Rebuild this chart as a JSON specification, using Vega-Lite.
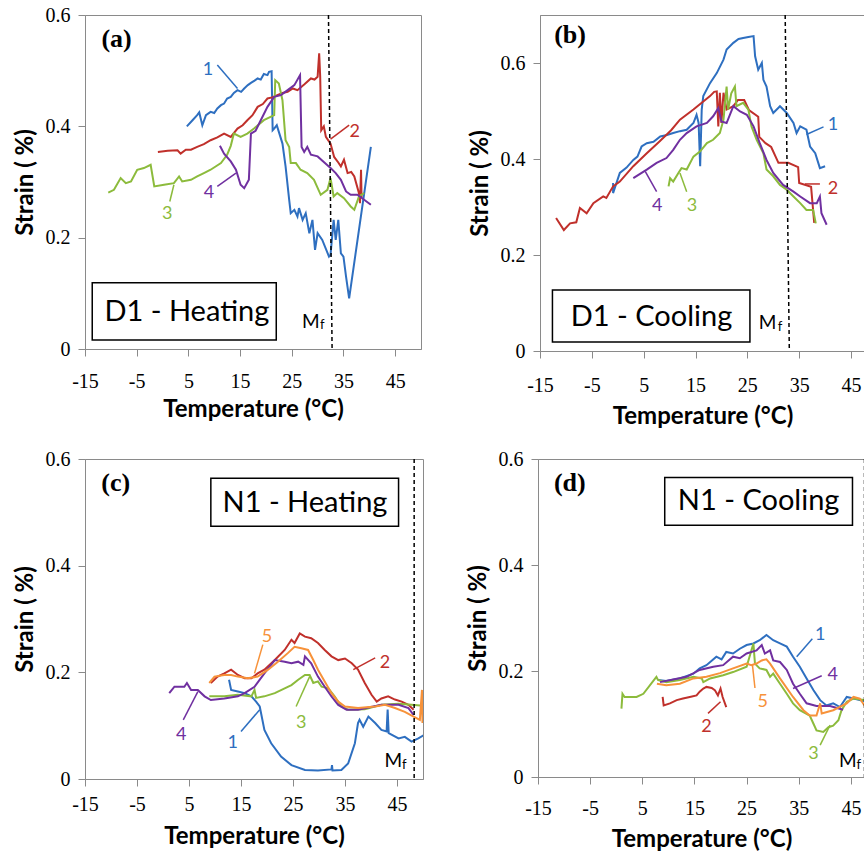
{
"$schema": "https://vega.github.io/schema/vega-lite/v6.json",
"background": "white",
"padding": {"left": 12, "top": 4, "right": 0, "bottom": 0},
"config": {
  "view": {"stroke": "#8a8a8a", "strokeWidth": 1},
  "axis": {"grid": false, "domainColor": "#8a8a8a", "tickColor": "#8a8a8a", "tickSize": 7, "labelFont": "Liberation Serif", "labelFontSize": 20, "labelColor": "#000", "titleFont": "Lato", "titleFontWeight": "bold", "titleFontSize": 24, "titleColor": "#000"},
  "text": {"font": "Lato"}
},
"datasets": {
"lines": [
{"p":"a","k":"1","t":4.7,"s":0.4},{"p":"a","k":"1","t":5.8,"s":0.411},{"p":"a","k":"1","t":6.7,"s":0.42},{"p":"a","k":"1","t":7.1,"s":0.425},{"p":"a","k":"1","t":7.7,"s":0.402},{"p":"a","k":"1","t":8.4,"s":0.42},{"p":"a","k":"1","t":9.3,"s":0.426},{"p":"a","k":"1","t":10.0,"s":0.424},{"p":"a","k":"1","t":10.6,"s":0.432},{"p":"a","k":"1","t":11.3,"s":0.438},{"p":"a","k":"1","t":11.9,"s":0.441},{"p":"a","k":"1","t":12.5,"s":0.45},{"p":"a","k":"1","t":13.2,"s":0.453},{"p":"a","k":"1","t":13.8,"s":0.46},{"p":"a","k":"1","t":14.5,"s":0.465},{"p":"a","k":"1","t":15.2,"s":0.462},{"p":"a","k":"1","t":15.8,"s":0.468},{"p":"a","k":"1","t":16.5,"s":0.474},{"p":"a","k":"1","t":17.1,"s":0.478},{"p":"a","k":"1","t":17.8,"s":0.482},{"p":"a","k":"1","t":18.4,"s":0.486},{"p":"a","k":"1","t":19.0,"s":0.484},{"p":"a","k":"1","t":19.6,"s":0.494},{"p":"a","k":"1","t":20.3,"s":0.492},{"p":"a","k":"1","t":20.6,"s":0.498},{"p":"a","k":"1","t":21.1,"s":0.499},{"p":"a","k":"1","t":21.3,"s":0.393},{"p":"a","k":"1","t":21.6,"s":0.396},{"p":"a","k":"1","t":22.1,"s":0.402},{"p":"a","k":"1","t":22.5,"s":0.39},{"p":"a","k":"1","t":23.2,"s":0.369},{"p":"a","k":"1","t":23.8,"s":0.328},{"p":"a","k":"1","t":24.5,"s":0.268},{"p":"a","k":"1","t":24.8,"s":0.244},{"p":"a","k":"1","t":25.5,"s":0.25},{"p":"a","k":"1","t":26.1,"s":0.238},{"p":"a","k":"1","t":26.4,"s":0.253},{"p":"a","k":"1","t":27.1,"s":0.232},{"p":"a","k":"1","t":27.7,"s":0.244},{"p":"a","k":"1","t":28.4,"s":0.208},{"p":"a","k":"1","t":29.0,"s":0.232},{"p":"a","k":"1","t":29.5,"s":0.178},{"p":"a","k":"1","t":30.0,"s":0.208},{"p":"a","k":"1","t":30.9,"s":0.196},{"p":"a","k":"1","t":32.2,"s":0.166},{"p":"a","k":"1","t":32.5,"s":0.169},{"p":"a","k":"1","t":33.1,"s":0.232},{"p":"a","k":"1","t":33.5,"s":0.196},{"p":"a","k":"1","t":34.0,"s":0.232},{"p":"a","k":"1","t":34.5,"s":0.172},{"p":"a","k":"1","t":35.0,"s":0.166},{"p":"a","k":"1","t":35.5,"s":0.13},{"p":"a","k":"1","t":36.1,"s":0.091},{"p":"a","k":"1","t":40.3,"s":0.363},
{"p":"a","k":"2","t":-0.9,"s":0.354},{"p":"a","k":"2","t":1.0,"s":0.356},{"p":"a","k":"2","t":2.9,"s":0.357},{"p":"a","k":"2","t":3.5,"s":0.351},{"p":"a","k":"2","t":4.5,"s":0.358},{"p":"a","k":"2","t":5.5,"s":0.358},{"p":"a","k":"2","t":6.7,"s":0.363},{"p":"a","k":"2","t":8.0,"s":0.368},{"p":"a","k":"2","t":9.3,"s":0.375},{"p":"a","k":"2","t":10.6,"s":0.38},{"p":"a","k":"2","t":11.9,"s":0.387},{"p":"a","k":"2","t":13.2,"s":0.381},{"p":"a","k":"2","t":14.5,"s":0.396},{"p":"a","k":"2","t":15.5,"s":0.402},{"p":"a","k":"2","t":16.4,"s":0.411},{"p":"a","k":"2","t":17.4,"s":0.42},{"p":"a","k":"2","t":18.4,"s":0.435},{"p":"a","k":"2","t":19.4,"s":0.44},{"p":"a","k":"2","t":20.3,"s":0.45},{"p":"a","k":"2","t":21.2,"s":0.452},{"p":"a","k":"2","t":22.2,"s":0.456},{"p":"a","k":"2","t":23.2,"s":0.46},{"p":"a","k":"2","t":24.2,"s":0.462},{"p":"a","k":"2","t":25.2,"s":0.468},{"p":"a","k":"2","t":26.1,"s":0.465},{"p":"a","k":"2","t":27.4,"s":0.475},{"p":"a","k":"2","t":28.7,"s":0.486},{"p":"a","k":"2","t":29.4,"s":0.484},{"p":"a","k":"2","t":30.0,"s":0.489},{"p":"a","k":"2","t":30.3,"s":0.531},{"p":"a","k":"2","t":30.5,"s":0.489},{"p":"a","k":"2","t":30.7,"s":0.393},{"p":"a","k":"2","t":31.2,"s":0.4},{"p":"a","k":"2","t":31.6,"s":0.381},{"p":"a","k":"2","t":32.5,"s":0.369},{"p":"a","k":"2","t":33.2,"s":0.345},{"p":"a","k":"2","t":34.0,"s":0.335},{"p":"a","k":"2","t":34.5,"s":0.328},{"p":"a","k":"2","t":35.1,"s":0.34},{"p":"a","k":"2","t":35.8,"s":0.316},{"p":"a","k":"2","t":36.5,"s":0.318},{"p":"a","k":"2","t":37.1,"s":0.31},{"p":"a","k":"2","t":38.0,"s":0.28},{"p":"a","k":"2","t":38.2,"s":0.262},{"p":"a","k":"2","t":38.4,"s":0.322},{"p":"a","k":"2","t":38.5,"s":0.272},
{"p":"a","k":"3","t":-10.5,"s":0.281},{"p":"a","k":"3","t":-9.4,"s":0.286},{"p":"a","k":"3","t":-8.1,"s":0.307},{"p":"a","k":"3","t":-7.1,"s":0.298},{"p":"a","k":"3","t":-6.1,"s":0.301},{"p":"a","k":"3","t":-4.9,"s":0.322},{"p":"a","k":"3","t":-3.6,"s":0.325},{"p":"a","k":"3","t":-2.3,"s":0.331},{"p":"a","k":"3","t":-1.6,"s":0.292},{"p":"a","k":"3","t":0.3,"s":0.295},{"p":"a","k":"3","t":2.2,"s":0.298},{"p":"a","k":"3","t":3.2,"s":0.31},{"p":"a","k":"3","t":3.8,"s":0.301},{"p":"a","k":"3","t":5.5,"s":0.304},{"p":"a","k":"3","t":6.7,"s":0.31},{"p":"a","k":"3","t":8.0,"s":0.316},{"p":"a","k":"3","t":9.3,"s":0.322},{"p":"a","k":"3","t":11.3,"s":0.334},{"p":"a","k":"3","t":12.5,"s":0.349},{"p":"a","k":"3","t":13.2,"s":0.365},{"p":"a","k":"3","t":13.8,"s":0.387},{"p":"a","k":"3","t":15.1,"s":0.381},{"p":"a","k":"3","t":16.4,"s":0.387},{"p":"a","k":"3","t":17.7,"s":0.396},{"p":"a","k":"3","t":19.6,"s":0.411},{"p":"a","k":"3","t":21.6,"s":0.42},{"p":"a","k":"3","t":21.8,"s":0.483},{"p":"a","k":"3","t":22.5,"s":0.477},{"p":"a","k":"3","t":23.2,"s":0.447},{"p":"a","k":"3","t":23.8,"s":0.375},{"p":"a","k":"3","t":24.5,"s":0.363},{"p":"a","k":"3","t":24.8,"s":0.334},{"p":"a","k":"3","t":25.8,"s":0.334},{"p":"a","k":"3","t":26.7,"s":0.322},{"p":"a","k":"3","t":28.0,"s":0.316},{"p":"a","k":"3","t":29.3,"s":0.304},{"p":"a","k":"3","t":30.6,"s":0.277},{"p":"a","k":"3","t":31.9,"s":0.286},{"p":"a","k":"3","t":32.5,"s":0.307},{"p":"a","k":"3","t":33.1,"s":0.274},{"p":"a","k":"3","t":33.8,"s":0.28},{"p":"a","k":"3","t":35.1,"s":0.271},{"p":"a","k":"3","t":36.4,"s":0.256},{"p":"a","k":"3","t":37.1,"s":0.25},{"p":"a","k":"3","t":38.0,"s":0.274},{"p":"a","k":"3","t":39.0,"s":0.28},
{"p":"a","k":"4","t":11.1,"s":0.365},{"p":"a","k":"4","t":11.9,"s":0.351},{"p":"a","k":"4","t":13.2,"s":0.337},{"p":"a","k":"4","t":14.2,"s":0.322},{"p":"a","k":"4","t":15.1,"s":0.295},{"p":"a","k":"4","t":15.8,"s":0.289},{"p":"a","k":"4","t":16.7,"s":0.304},{"p":"a","k":"4","t":17.1,"s":0.387},{"p":"a","k":"4","t":18.0,"s":0.392},{"p":"a","k":"4","t":19.0,"s":0.411},{"p":"a","k":"4","t":20.3,"s":0.435},{"p":"a","k":"4","t":21.6,"s":0.453},{"p":"a","k":"4","t":22.9,"s":0.456},{"p":"a","k":"4","t":24.2,"s":0.465},{"p":"a","k":"4","t":25.5,"s":0.474},{"p":"a","k":"4","t":26.6,"s":0.492},{"p":"a","k":"4","t":26.9,"s":0.363},{"p":"a","k":"4","t":27.4,"s":0.354},{"p":"a","k":"4","t":28.0,"s":0.363},{"p":"a","k":"4","t":28.7,"s":0.349},{"p":"a","k":"4","t":30.0,"s":0.346},{"p":"a","k":"4","t":31.3,"s":0.335},{"p":"a","k":"4","t":32.5,"s":0.325},{"p":"a","k":"4","t":33.5,"s":0.316},{"p":"a","k":"4","t":34.5,"s":0.304},{"p":"a","k":"4","t":35.5,"s":0.283},{"p":"a","k":"4","t":36.4,"s":0.277},{"p":"a","k":"4","t":37.7,"s":0.277},{"p":"a","k":"4","t":39.0,"s":0.268},{"p":"a","k":"4","t":40.3,"s":0.259},
{"p":"b","k":"1","t":-0.9,"s":0.35},{"p":"b","k":"1","t":-0.9,"s":0.329},{"p":"b","k":"1","t":0.4,"s":0.371},{"p":"b","k":"1","t":1.7,"s":0.382},{"p":"b","k":"1","t":3.0,"s":0.398},{"p":"b","k":"1","t":3.8,"s":0.405},{"p":"b","k":"1","t":4.6,"s":0.426},{"p":"b","k":"1","t":5.6,"s":0.433},{"p":"b","k":"1","t":6.9,"s":0.436},{"p":"b","k":"1","t":8.2,"s":0.447},{"p":"b","k":"1","t":9.5,"s":0.45},{"p":"b","k":"1","t":10.7,"s":0.454},{"p":"b","k":"1","t":12.0,"s":0.458},{"p":"b","k":"1","t":13.3,"s":0.461},{"p":"b","k":"1","t":14.6,"s":0.475},{"p":"b","k":"1","t":15.2,"s":0.492},{"p":"b","k":"1","t":15.6,"s":0.475},{"p":"b","k":"1","t":15.9,"s":0.385},{"p":"b","k":"1","t":16.2,"s":0.503},{"p":"b","k":"1","t":16.5,"s":0.531},{"p":"b","k":"1","t":17.8,"s":0.558},{"p":"b","k":"1","t":19.1,"s":0.579},{"p":"b","k":"1","t":20.4,"s":0.607},{"p":"b","k":"1","t":21.0,"s":0.628},{"p":"b","k":"1","t":22.3,"s":0.642},{"p":"b","k":"1","t":23.3,"s":0.65},{"p":"b","k":"1","t":24.2,"s":0.652},{"p":"b","k":"1","t":25.2,"s":0.654},{"p":"b","k":"1","t":26.2,"s":0.656},{"p":"b","k":"1","t":26.5,"s":0.614},{"p":"b","k":"1","t":27.1,"s":0.586},{"p":"b","k":"1","t":27.8,"s":0.6},{"p":"b","k":"1","t":28.1,"s":0.565},{"p":"b","k":"1","t":28.7,"s":0.551},{"p":"b","k":"1","t":29.4,"s":0.51},{"p":"b","k":"1","t":30.0,"s":0.496},{"p":"b","k":"1","t":31.3,"s":0.51},{"p":"b","k":"1","t":32.6,"s":0.496},{"p":"b","k":"1","t":33.9,"s":0.475},{"p":"b","k":"1","t":34.5,"s":0.454},{"p":"b","k":"1","t":35.2,"s":0.468},{"p":"b","k":"1","t":36.4,"s":0.461},{"p":"b","k":"1","t":37.1,"s":0.426},{"p":"b","k":"1","t":38.1,"s":0.412},{"p":"b","k":"1","t":39.0,"s":0.381},{"p":"b","k":"1","t":40.0,"s":0.385},
{"p":"b","k":"2","t":-11.9,"s":0.277},{"p":"b","k":"2","t":-10.4,"s":0.252},{"p":"b","k":"2","t":-9.2,"s":0.266},{"p":"b","k":"2","t":-8.0,"s":0.268},{"p":"b","k":"2","t":-7.3,"s":0.298},{"p":"b","k":"2","t":-6.0,"s":0.287},{"p":"b","k":"2","t":-4.7,"s":0.308},{"p":"b","k":"2","t":-2.8,"s":0.322},{"p":"b","k":"2","t":-2.2,"s":0.319},{"p":"b","k":"2","t":-0.9,"s":0.343},{"p":"b","k":"2","t":0.4,"s":0.353},{"p":"b","k":"2","t":3.0,"s":0.385},{"p":"b","k":"2","t":5.6,"s":0.412},{"p":"b","k":"2","t":8.0,"s":0.436},{"p":"b","k":"2","t":10.3,"s":0.46},{"p":"b","k":"2","t":12.0,"s":0.482},{"p":"b","k":"2","t":14.6,"s":0.503},{"p":"b","k":"2","t":16.2,"s":0.517},{"p":"b","k":"2","t":17.8,"s":0.531},{"p":"b","k":"2","t":18.6,"s":0.54},{"p":"b","k":"2","t":19.1,"s":0.541},{"p":"b","k":"2","t":19.4,"s":0.468},{"p":"b","k":"2","t":19.7,"s":0.538},{"p":"b","k":"2","t":20.0,"s":0.475},{"p":"b","k":"2","t":20.4,"s":0.538},{"p":"b","k":"2","t":21.0,"s":0.503},{"p":"b","k":"2","t":22.3,"s":0.51},{"p":"b","k":"2","t":23.2,"s":0.523},{"p":"b","k":"2","t":24.4,"s":0.523},{"p":"b","k":"2","t":25.3,"s":0.502},{"p":"b","k":"2","t":27.1,"s":0.488},{"p":"b","k":"2","t":27.3,"s":0.446},{"p":"b","k":"2","t":28.5,"s":0.433},{"p":"b","k":"2","t":29.6,"s":0.425},{"p":"b","k":"2","t":31.0,"s":0.392},{"p":"b","k":"2","t":32.9,"s":0.392},{"p":"b","k":"2","t":34.8,"s":0.383},{"p":"b","k":"2","t":35.0,"s":0.35},{"p":"b","k":"2","t":37.3,"s":0.342},{"p":"b","k":"2","t":37.9,"s":0.267},
{"p":"b","k":"3","t":9.8,"s":0.343},{"p":"b","k":"3","t":10.1,"s":0.36},{"p":"b","k":"3","t":10.7,"s":0.353},{"p":"b","k":"3","t":11.7,"s":0.371},{"p":"b","k":"3","t":12.3,"s":0.381},{"p":"b","k":"3","t":13.3,"s":0.378},{"p":"b","k":"3","t":14.6,"s":0.405},{"p":"b","k":"3","t":15.9,"s":0.416},{"p":"b","k":"3","t":17.2,"s":0.433},{"p":"b","k":"3","t":18.4,"s":0.44},{"p":"b","k":"3","t":19.7,"s":0.454},{"p":"b","k":"3","t":20.4,"s":0.482},{"p":"b","k":"3","t":21.0,"s":0.551},{"p":"b","k":"3","t":21.3,"s":0.503},{"p":"b","k":"3","t":21.9,"s":0.537},{"p":"b","k":"3","t":22.6,"s":0.551},{"p":"b","k":"3","t":22.9,"s":0.51},{"p":"b","k":"3","t":24.2,"s":0.517},{"p":"b","k":"3","t":25.2,"s":0.503},{"p":"b","k":"3","t":25.8,"s":0.468},{"p":"b","k":"3","t":26.8,"s":0.44},{"p":"b","k":"3","t":28.1,"s":0.412},{"p":"b","k":"3","t":28.7,"s":0.378},{"p":"b","k":"3","t":30.0,"s":0.364},{"p":"b","k":"3","t":31.3,"s":0.346},{"p":"b","k":"3","t":32.6,"s":0.336},{"p":"b","k":"3","t":33.9,"s":0.322},{"p":"b","k":"3","t":35.2,"s":0.308},{"p":"b","k":"3","t":36.4,"s":0.294},{"p":"b","k":"3","t":37.7,"s":0.294},{"p":"b","k":"3","t":38.2,"s":0.266},
{"p":"b","k":"4","t":3.0,"s":0.36},{"p":"b","k":"4","t":5.6,"s":0.378},{"p":"b","k":"4","t":7.5,"s":0.392},{"p":"b","k":"4","t":9.4,"s":0.402},{"p":"b","k":"4","t":10.7,"s":0.419},{"p":"b","k":"4","t":12.0,"s":0.44},{"p":"b","k":"4","t":13.3,"s":0.454},{"p":"b","k":"4","t":15.2,"s":0.468},{"p":"b","k":"4","t":17.2,"s":0.475},{"p":"b","k":"4","t":18.4,"s":0.489},{"p":"b","k":"4","t":19.4,"s":0.506},{"p":"b","k":"4","t":20.0,"s":0.478},{"p":"b","k":"4","t":21.0,"s":0.475},{"p":"b","k":"4","t":22.3,"s":0.51},{"p":"b","k":"4","t":23.6,"s":0.499},{"p":"b","k":"4","t":24.9,"s":0.492},{"p":"b","k":"4","t":26.2,"s":0.468},{"p":"b","k":"4","t":27.4,"s":0.433},{"p":"b","k":"4","t":28.7,"s":0.398},{"p":"b","k":"4","t":30.0,"s":0.371},{"p":"b","k":"4","t":31.9,"s":0.346},{"p":"b","k":"4","t":33.9,"s":0.332},{"p":"b","k":"4","t":35.2,"s":0.322},{"p":"b","k":"4","t":37.1,"s":0.308},{"p":"b","k":"4","t":38.4,"s":0.308},{"p":"b","k":"4","t":39.0,"s":0.322},{"p":"b","k":"4","t":39.3,"s":0.287},{"p":"b","k":"4","t":40.3,"s":0.263},
{"p":"c","k":"1","t":12.7,"s":0.186},{"p":"c","k":"1","t":13.1,"s":0.167},{"p":"c","k":"1","t":14.4,"s":0.164},{"p":"c","k":"1","t":15.7,"s":0.161},{"p":"c","k":"1","t":17.0,"s":0.155},{"p":"c","k":"1","t":17.9,"s":0.145},{"p":"c","k":"1","t":18.6,"s":0.136},{"p":"c","k":"1","t":19.5,"s":0.092},{"p":"c","k":"1","t":20.8,"s":0.067},{"p":"c","k":"1","t":22.7,"s":0.042},{"p":"c","k":"1","t":24.7,"s":0.026},{"p":"c","k":"1","t":27.3,"s":0.017},{"p":"c","k":"1","t":29.8,"s":0.016},{"p":"c","k":"1","t":32.4,"s":0.018},{"p":"c","k":"1","t":32.5,"s":0.026},{"p":"c","k":"1","t":32.6,"s":0.016},{"p":"c","k":"1","t":34.3,"s":0.017},{"p":"c","k":"1","t":35.6,"s":0.029},{"p":"c","k":"1","t":36.9,"s":0.067},{"p":"c","k":"1","t":37.5,"s":0.105},{"p":"c","k":"1","t":37.8,"s":0.111},{"p":"c","k":"1","t":38.5,"s":0.098},{"p":"c","k":"1","t":39.5,"s":0.117},{"p":"c","k":"1","t":40.8,"s":0.105},{"p":"c","k":"1","t":42.0,"s":0.092},{"p":"c","k":"1","t":43.0,"s":0.089},{"p":"c","k":"1","t":43.2,"s":0.13},{"p":"c","k":"1","t":43.4,"s":0.086},{"p":"c","k":"1","t":45.3,"s":0.076},{"p":"c","k":"1","t":46.5,"s":0.079},{"p":"c","k":"1","t":47.8,"s":0.07},{"p":"c","k":"1","t":49.1,"s":0.076},{"p":"c","k":"1","t":50.3,"s":0.083},
{"p":"c","k":"2","t":9.2,"s":0.18},{"p":"c","k":"2","t":10.5,"s":0.192},{"p":"c","k":"2","t":11.8,"s":0.198},{"p":"c","k":"2","t":13.1,"s":0.205},{"p":"c","k":"2","t":14.4,"s":0.195},{"p":"c","k":"2","t":15.7,"s":0.189},{"p":"c","k":"2","t":17.0,"s":0.189},{"p":"c","k":"2","t":18.2,"s":0.198},{"p":"c","k":"2","t":19.5,"s":0.205},{"p":"c","k":"2","t":21.5,"s":0.223},{"p":"c","k":"2","t":23.4,"s":0.242},{"p":"c","k":"2","t":24.7,"s":0.261},{"p":"c","k":"2","t":25.3,"s":0.255},{"p":"c","k":"2","t":26.3,"s":0.273},{"p":"c","k":"2","t":27.3,"s":0.267},{"p":"c","k":"2","t":28.5,"s":0.264},{"p":"c","k":"2","t":29.8,"s":0.255},{"p":"c","k":"2","t":31.1,"s":0.242},{"p":"c","k":"2","t":32.4,"s":0.23},{"p":"c","k":"2","t":33.7,"s":0.223},{"p":"c","k":"2","t":35.0,"s":0.226},{"p":"c","k":"2","t":36.3,"s":0.217},{"p":"c","k":"2","t":37.5,"s":0.205},{"p":"c","k":"2","t":38.8,"s":0.18},{"p":"c","k":"2","t":40.1,"s":0.158},{"p":"c","k":"2","t":41.1,"s":0.145},{"p":"c","k":"2","t":42.0,"s":0.151},{"p":"c","k":"2","t":43.3,"s":0.155},{"p":"c","k":"2","t":44.6,"s":0.149},{"p":"c","k":"2","t":45.9,"s":0.145},{"p":"c","k":"2","t":47.2,"s":0.139},{"p":"c","k":"2","t":48.2,"s":0.13},
{"p":"c","k":"3","t":8.9,"s":0.155},{"p":"c","k":"3","t":11.8,"s":0.155},{"p":"c","k":"3","t":14.4,"s":0.158},{"p":"c","k":"3","t":17.0,"s":0.155},{"p":"c","k":"3","t":17.6,"s":0.167},{"p":"c","k":"3","t":17.9,"s":0.152},{"p":"c","k":"3","t":19.5,"s":0.155},{"p":"c","k":"3","t":21.5,"s":0.161},{"p":"c","k":"3","t":23.4,"s":0.17},{"p":"c","k":"3","t":24.7,"s":0.176},{"p":"c","k":"3","t":26.0,"s":0.186},{"p":"c","k":"3","t":27.3,"s":0.195},{"p":"c","k":"3","t":28.2,"s":0.195},{"p":"c","k":"3","t":28.9,"s":0.18},{"p":"c","k":"3","t":29.8,"s":0.183},{"p":"c","k":"3","t":30.5,"s":0.173},{"p":"c","k":"3","t":31.8,"s":0.17},{"p":"c","k":"3","t":33.0,"s":0.155},{"p":"c","k":"3","t":34.3,"s":0.136},{"p":"c","k":"3","t":35.6,"s":0.13},{"p":"c","k":"3","t":38.8,"s":0.131},{"p":"c","k":"3","t":42.0,"s":0.139},{"p":"c","k":"3","t":45.3,"s":0.141},{"p":"c","k":"3","t":47.8,"s":0.139},{"p":"c","k":"3","t":50.3,"s":0.137},
{"p":"c","k":"4","t":1.2,"s":0.161},{"p":"c","k":"4","t":2.2,"s":0.173},{"p":"c","k":"4","t":4.1,"s":0.173},{"p":"c","k":"4","t":4.6,"s":0.18},{"p":"c","k":"4","t":5.4,"s":0.167},{"p":"c","k":"4","t":6.7,"s":0.167},{"p":"c","k":"4","t":8.0,"s":0.155},{"p":"c","k":"4","t":9.2,"s":0.148},{"p":"c","k":"4","t":11.8,"s":0.151},{"p":"c","k":"4","t":14.4,"s":0.155},{"p":"c","k":"4","t":15.7,"s":0.161},{"p":"c","k":"4","t":17.6,"s":0.173},{"p":"c","k":"4","t":19.5,"s":0.198},{"p":"c","k":"4","t":21.5,"s":0.223},{"p":"c","k":"4","t":23.4,"s":0.22},{"p":"c","k":"4","t":24.7,"s":0.217},{"p":"c","k":"4","t":26.0,"s":0.22},{"p":"c","k":"4","t":27.0,"s":0.214},{"p":"c","k":"4","t":27.3,"s":0.23},{"p":"c","k":"4","t":28.5,"s":0.217},{"p":"c","k":"4","t":29.8,"s":0.192},{"p":"c","k":"4","t":31.1,"s":0.173},{"p":"c","k":"4","t":32.4,"s":0.155},{"p":"c","k":"4","t":33.7,"s":0.139},{"p":"c","k":"4","t":35.3,"s":0.13},{"p":"c","k":"4","t":37.5,"s":0.13},{"p":"c","k":"4","t":42.0,"s":0.139},{"p":"c","k":"4","t":45.3,"s":0.139},{"p":"c","k":"4","t":47.2,"s":0.133},{"p":"c","k":"4","t":48.2,"s":0.12},
{"p":"c","k":"5","t":8.9,"s":0.18},{"p":"c","k":"5","t":9.9,"s":0.192},{"p":"c","k":"5","t":11.8,"s":0.195},{"p":"c","k":"5","t":13.1,"s":0.195},{"p":"c","k":"5","t":14.4,"s":0.192},{"p":"c","k":"5","t":16.3,"s":0.189},{"p":"c","k":"5","t":18.2,"s":0.192},{"p":"c","k":"5","t":20.2,"s":0.205},{"p":"c","k":"5","t":22.1,"s":0.22},{"p":"c","k":"5","t":24.0,"s":0.236},{"p":"c","k":"5","t":25.3,"s":0.248},{"p":"c","k":"5","t":26.6,"s":0.245},{"p":"c","k":"5","t":27.9,"s":0.242},{"p":"c","k":"5","t":28.9,"s":0.223},{"p":"c","k":"5","t":29.8,"s":0.205},{"p":"c","k":"5","t":31.1,"s":0.183},{"p":"c","k":"5","t":32.4,"s":0.161},{"p":"c","k":"5","t":33.7,"s":0.145},{"p":"c","k":"5","t":35.0,"s":0.136},{"p":"c","k":"5","t":37.5,"s":0.133},{"p":"c","k":"5","t":40.8,"s":0.136},{"p":"c","k":"5","t":42.7,"s":0.139},{"p":"c","k":"5","t":44.6,"s":0.133},{"p":"c","k":"5","t":46.5,"s":0.126},{"p":"c","k":"5","t":48.2,"s":0.117},{"p":"c","k":"5","t":49.4,"s":0.111},{"p":"c","k":"5","t":49.8,"s":0.167},{"p":"c","k":"5","t":49.9,"s":0.105},
{"p":"d","k":"1","t":8.0,"s":0.183},{"p":"d","k":"1","t":9.6,"s":0.181},{"p":"d","k":"1","t":12.2,"s":0.186},{"p":"d","k":"1","t":14.8,"s":0.195},{"p":"d","k":"1","t":16.0,"s":0.205},{"p":"d","k":"1","t":17.3,"s":0.211},{"p":"d","k":"1","t":19.2,"s":0.227},{"p":"d","k":"1","t":20.2,"s":0.222},{"p":"d","k":"1","t":21.1,"s":0.236},{"p":"d","k":"1","t":22.4,"s":0.233},{"p":"d","k":"1","t":23.7,"s":0.242},{"p":"d","k":"1","t":25.0,"s":0.249},{"p":"d","k":"1","t":26.3,"s":0.252},{"p":"d","k":"1","t":27.5,"s":0.258},{"p":"d","k":"1","t":28.8,"s":0.268},{"p":"d","k":"1","t":30.1,"s":0.258},{"p":"d","k":"1","t":31.4,"s":0.252},{"p":"d","k":"1","t":32.7,"s":0.246},{"p":"d","k":"1","t":33.9,"s":0.227},{"p":"d","k":"1","t":35.2,"s":0.208},{"p":"d","k":"1","t":36.5,"s":0.186},{"p":"d","k":"1","t":37.8,"s":0.164},{"p":"d","k":"1","t":39.1,"s":0.145},{"p":"d","k":"1","t":40.3,"s":0.135},{"p":"d","k":"1","t":41.6,"s":0.139},{"p":"d","k":"1","t":42.9,"s":0.132},{"p":"d","k":"1","t":44.2,"s":0.151},{"p":"d","k":"1","t":45.5,"s":0.148},{"p":"d","k":"1","t":46.7,"s":0.145},{"p":"d","k":"1","t":47.8,"s":0.142},
{"p":"d","k":"2","t":8.9,"s":0.151},{"p":"d","k":"2","t":9.1,"s":0.135},{"p":"d","k":"2","t":10.3,"s":0.139},{"p":"d","k":"2","t":11.6,"s":0.145},{"p":"d","k":"2","t":12.8,"s":0.148},{"p":"d","k":"2","t":14.1,"s":0.151},{"p":"d","k":"2","t":15.4,"s":0.154},{"p":"d","k":"2","t":16.0,"s":0.161},{"p":"d","k":"2","t":16.7,"s":0.167},{"p":"d","k":"2","t":17.3,"s":0.17},{"p":"d","k":"2","t":18.3,"s":0.168},{"p":"d","k":"2","t":18.9,"s":0.164},{"p":"d","k":"2","t":19.5,"s":0.154},{"p":"d","k":"2","t":20.0,"s":0.167},{"p":"d","k":"2","t":20.4,"s":0.151},{"p":"d","k":"2","t":21.1,"s":0.132},
{"p":"d","k":"3","t":1.0,"s":0.129},{"p":"d","k":"3","t":1.2,"s":0.157},{"p":"d","k":"3","t":1.6,"s":0.151},{"p":"d","k":"3","t":3.9,"s":0.151},{"p":"d","k":"3","t":5.2,"s":0.157},{"p":"d","k":"3","t":7.7,"s":0.189},{"p":"d","k":"3","t":8.0,"s":0.183},{"p":"d","k":"3","t":9.6,"s":0.179},{"p":"d","k":"3","t":12.2,"s":0.183},{"p":"d","k":"3","t":14.8,"s":0.189},{"p":"d","k":"3","t":16.4,"s":0.186},{"p":"d","k":"3","t":16.7,"s":0.179},{"p":"d","k":"3","t":18.0,"s":0.186},{"p":"d","k":"3","t":20.5,"s":0.192},{"p":"d","k":"3","t":22.4,"s":0.198},{"p":"d","k":"3","t":25.0,"s":0.208},{"p":"d","k":"3","t":26.3,"s":0.252},{"p":"d","k":"3","t":26.6,"s":0.214},{"p":"d","k":"3","t":27.5,"s":0.205},{"p":"d","k":"3","t":28.8,"s":0.202},{"p":"d","k":"3","t":29.5,"s":0.189},{"p":"d","k":"3","t":30.1,"s":0.195},{"p":"d","k":"3","t":31.4,"s":0.176},{"p":"d","k":"3","t":32.7,"s":0.157},{"p":"d","k":"3","t":33.9,"s":0.139},{"p":"d","k":"3","t":35.2,"s":0.126},{"p":"d","k":"3","t":37.1,"s":0.116},{"p":"d","k":"3","t":37.8,"s":0.101},{"p":"d","k":"3","t":38.4,"s":0.088},{"p":"d","k":"3","t":39.7,"s":0.085},{"p":"d","k":"3","t":40.7,"s":0.094},{"p":"d","k":"3","t":41.6,"s":0.097},{"p":"d","k":"3","t":42.6,"s":0.107},{"p":"d","k":"3","t":43.2,"s":0.126},{"p":"d","k":"3","t":44.2,"s":0.142},{"p":"d","k":"3","t":45.5,"s":0.148},{"p":"d","k":"3","t":47.8,"s":0.145},
{"p":"d","k":"4","t":8.4,"s":0.179},{"p":"d","k":"4","t":10.9,"s":0.184},{"p":"d","k":"4","t":13.5,"s":0.189},{"p":"d","k":"4","t":16.0,"s":0.202},{"p":"d","k":"4","t":18.6,"s":0.208},{"p":"d","k":"4","t":20.5,"s":0.211},{"p":"d","k":"4","t":22.4,"s":0.227},{"p":"d","k":"4","t":23.7,"s":0.224},{"p":"d","k":"4","t":25.0,"s":0.233},{"p":"d","k":"4","t":26.9,"s":0.239},{"p":"d","k":"4","t":27.9,"s":0.249},{"p":"d","k":"4","t":28.5,"s":0.233},{"p":"d","k":"4","t":29.5,"s":0.239},{"p":"d","k":"4","t":30.1,"s":0.22},{"p":"d","k":"4","t":31.4,"s":0.217},{"p":"d","k":"4","t":32.7,"s":0.202},{"p":"d","k":"4","t":33.9,"s":0.176},{"p":"d","k":"4","t":35.2,"s":0.157},{"p":"d","k":"4","t":36.5,"s":0.139},{"p":"d","k":"4","t":38.4,"s":0.134},{"p":"d","k":"4","t":41.0,"s":0.134},{"p":"d","k":"4","t":43.5,"s":0.127},
{"p":"d","k":"5","t":7.8,"s":0.176},{"p":"d","k":"5","t":9.6,"s":0.173},{"p":"d","k":"5","t":12.2,"s":0.176},{"p":"d","k":"5","t":14.8,"s":0.186},{"p":"d","k":"5","t":17.3,"s":0.189},{"p":"d","k":"5","t":19.9,"s":0.196},{"p":"d","k":"5","t":22.4,"s":0.205},{"p":"d","k":"5","t":25.0,"s":0.214},{"p":"d","k":"5","t":25.9,"s":0.211},{"p":"d","k":"5","t":26.9,"s":0.214},{"p":"d","k":"5","t":27.9,"s":0.22},{"p":"d","k":"5","t":28.8,"s":0.222},{"p":"d","k":"5","t":29.5,"s":0.214},{"p":"d","k":"5","t":31.4,"s":0.186},{"p":"d","k":"5","t":33.9,"s":0.151},{"p":"d","k":"5","t":35.9,"s":0.126},{"p":"d","k":"5","t":37.1,"s":0.116},{"p":"d","k":"5","t":38.4,"s":0.116},{"p":"d","k":"5","t":39.1,"s":0.139},{"p":"d","k":"5","t":39.4,"s":0.12},{"p":"d","k":"5","t":41.6,"s":0.126},{"p":"d","k":"5","t":44.2,"s":0.139},{"p":"d","k":"5","t":45.5,"s":0.151},{"p":"d","k":"5","t":46.7,"s":0.148},{"p":"d","k":"5","t":47.8,"s":0.132}
],
"lead": [
{"p":"a","k":"1","t":10.6,"s":0.51,"t2":14.5,"s2":0.468},{"p":"a","k":"2","t":36.1,"s":0.402,"t2":32.5,"s2":0.377},{"p":"a","k":"3","t":1.4,"s":0.265,"t2":2.2,"s2":0.295},{"p":"a","k":"4","t":10.6,"s":0.292,"t2":14.2,"s2":0.316},
{"p":"b","k":"1","t":39.7,"s":0.467,"t2":36.4,"s2":0.451},{"p":"b","k":"2","t":39.0,"s":0.348,"t2":36.1,"s2":0.348},{"p":"b","k":"3","t":13.3,"s":0.332,"t2":12.0,"s2":0.371},{"p":"b","k":"4","t":7.5,"s":0.332,"t2":5.3,"s2":0.374},
{"p":"c","k":"1","t":15.0,"s":0.089,"t2":18.6,"s2":0.13},{"p":"c","k":"2","t":40.8,"s":0.227,"t2":36.6,"s2":0.205},{"p":"c","k":"3","t":25.6,"s":0.136,"t2":28.2,"s2":0.192},{"p":"c","k":"4","t":3.9,"s":0.111,"t2":6.7,"s2":0.164},{"p":"c","k":"5","t":19.2,"s":0.252,"t2":17.6,"s2":0.198},
{"p":"d","k":"1","t":37.6,"s":0.261,"t2":34.6,"s2":0.227},{"p":"d","k":"2","t":17.6,"s":0.12,"t2":20.0,"s2":0.142},{"p":"d","k":"3","t":39.1,"s":0.06,"t2":41.0,"s2":0.098},{"p":"d","k":"4","t":39.4,"s":0.191,"t2":33.9,"s2":0.167},{"p":"d","k":"5","t":26.6,"s":0.168,"t2":26.1,"s2":0.213}
],
"num": [
{"p":"a","k":"1","t":8.8,"s":0.502},{"p":"a","k":"2","t":37.2,"s":0.39},{"p":"a","k":"3","t":0.9,"s":0.242},{"p":"a","k":"4","t":9.0,"s":0.28},
{"p":"b","k":"1","t":41.5,"s":0.471},{"p":"b","k":"2","t":41.5,"s":0.338},{"p":"b","k":"3","t":14.3,"s":0.303},{"p":"b","k":"4","t":7.6,"s":0.303},
{"p":"c","k":"1","t":13.4,"s":0.067},{"p":"c","k":"2","t":42.7,"s":0.217},{"p":"c","k":"3","t":26.6,"s":0.105},{"p":"c","k":"4","t":3.5,"s":0.083},{"p":"c","k":"5","t":20.0,"s":0.266},
{"p":"d","k":"1","t":39.1,"s":0.268},{"p":"d","k":"2","t":17.3,"s":0.094},{"p":"d","k":"3","t":37.8,"s":0.044},{"p":"d","k":"4","t":41.5,"s":0.192},{"p":"d","k":"5","t":28.1,"s":0.142}
],
"box": [
{"p":"a","t":-13.6,"s":0.119,"t2":22.0,"s2":0.016},{"p":"b","t":-12.6,"s":0.127,"t2":25.5,"s2":0.019},{"p":"c","t":9.2,"s":0.564,"t2":45.3,"s2":0.474},{"p":"d","t":9.3,"s":0.565,"t2":45.3,"s2":0.475}
],
"txt": [
{"p":"a","r":"box","t":4.7,"s":0.066,"label":"D1 - Heating"},{"p":"b","r":"box","t":6.5,"s":0.071,"label":"D1 - Cooling"},{"p":"c","r":"box","t":27.3,"s":0.518,"label":"N1 - Heating"},{"p":"d","r":"box","t":27.3,"s":0.52,"label":"N1 - Cooling"},
{"p":"a","r":"pan","t":-8.9,"s":0.556,"label":"(a)"},{"p":"b","r":"pan","t":-9.2,"s":0.659,"label":"(b)"},{"p":"c","r":"pan","t":-9.1,"s":0.555,"label":"(c)"},{"p":"d","r":"pan","t":-8.9,"s":0.554,"label":"(d)"},
{"p":"a","r":"M","t":28.7,"s":0.049,"label":"M"},{"p":"b","r":"M","t":28.9,"s":0.058,"label":"M"},{"p":"c","r":"M","t":44.3,"s":0.034,"label":"M"},{"p":"d","r":"M","t":44.4,"s":0.031,"label":"M"},
{"p":"a","r":"f","t":30.9,"s":0.043,"label":"f"},{"p":"b","r":"f","t":31.3,"s":0.05,"label":"f"},{"p":"c","r":"f","t":46.4,"s":0.027,"label":"f"},{"p":"d","r":"f","t":46.5,"s":0.023,"label":"f"}
],
"dash": [
{"p":"a","t":32.1,"s":0.6,"t2":32.8,"s2":0},{"p":"b","t":32.3,"s":0.7,"t2":33.1,"s2":0},{"p":"c","t":48.3,"s":0.6,"t2":48.3,"s2":0},{"p":"d","t":47.6,"s":0.6,"t2":47.6,"s2":0}
]
},
"spacing": 19,
"vconcat": [
{"spacing": 45, "hconcat": [
{"width": 336, "height": 334,
 "encoding": {
  "x": {"field": "t", "type": "quantitative", "scale": {"domain": [-15, 50], "nice": false, "zero": false}, "axis": {"values": [-15,-5,5,15,25,35,45], "labelExpr": "'' + datum.value", "labelFlush": false, "labelPadding": 15, "titlePadding": 6, "title": "Temperature (°C)"}},
  "y": {"field": "s", "type": "quantitative", "scale": {"domain": [0, 0.6], "nice": false, "zero": false}, "axis": {"values": [0,0.2,0.4,0.6], "labelExpr": "'' + datum.value", "labelPadding": 8, "titlePadding": 8, "title": "Strain ( %)"}}
 },
 "layer": [
  {"data": {"name": "lines"}, "transform": [{"filter": "datum.p == 'a'"}], "mark": {"type": "line", "strokeWidth": 2, "clip": true}, "encoding": {"color": {"field": "k", "type": "nominal", "scale": {"domain": ["1","2","3","4","5"], "range": ["#2e6fc0","#c0302b","#8cbb3c","#7030a0","#f7923a"]}, "legend": null}, "order": {"value": null}}},
  {"data": {"name": "lead"}, "transform": [{"filter": "datum.p == 'a'"}], "mark": {"type": "rule", "strokeWidth": 1.5}, "encoding": {"x2": {"field": "t2"}, "y2": {"field": "s2"}, "color": {"field": "k", "type": "nominal", "legend": null}}},
  {"data": {"name": "num"}, "transform": [{"filter": "datum.p == 'a'"}], "mark": {"type": "text", "fontSize": 18}, "encoding": {"text": {"field": "k"}, "color": {"field": "k", "type": "nominal", "legend": null}}},
  {"data": {"name": "box"}, "transform": [{"filter": "datum.p == 'a'"}], "mark": {"type": "rect", "fill": "white", "stroke": "black", "strokeWidth": 1.5}, "encoding": {"x2": {"field": "t2"}, "y2": {"field": "s2"}}},
  {"data": {"name": "txt"}, "transform": [{"filter": "datum.p == 'a' && datum.r == 'box'"}], "mark": {"type": "text", "fontSize": 29, "color": "black"}, "encoding": {"text": {"field": "label"}}},
  {"data": {"name": "txt"}, "transform": [{"filter": "datum.p == 'a' && datum.r == 'pan'"}], "mark": {"type": "text", "fontSize": 26, "font": "Liberation Serif", "fontWeight": "bold", "color": "black"}, "encoding": {"text": {"field": "label"}}},
  {"data": {"name": "txt"}, "transform": [{"filter": "datum.p == 'a' && datum.r == 'M'"}], "mark": {"type": "text", "fontSize": 19, "color": "black"}, "encoding": {"text": {"field": "label"}}},
  {"data": {"name": "txt"}, "transform": [{"filter": "datum.p == 'a' && datum.r == 'f'"}], "mark": {"type": "text", "fontSize": 13, "color": "black"}, "encoding": {"text": {"field": "label"}}},
  {"data": {"name": "dash"}, "transform": [{"filter": "datum.p == 'a'"}], "mark": {"type": "rule", "strokeDash": [4,3], "strokeWidth": 1.5, "color": "black"}, "encoding": {"x2": {"field": "t2"}, "y2": {"field": "s2"}}}
 ]},
{"width": 325, "height": 336,
 "encoding": {
  "x": {"field": "t", "type": "quantitative", "scale": {"domain": [-15, 47.7], "nice": false, "zero": false}, "axis": {"values": [-15,-5,5,15,25,35,45], "labelExpr": "'' + datum.value", "labelFlush": false, "labelPadding": 17, "titlePadding": 9, "title": "Temperature (°C)"}},
  "y": {"field": "s", "type": "quantitative", "scale": {"domain": [0, 0.7], "nice": false, "zero": false}, "axis": {"values": [0,0.2,0.4,0.6], "labelExpr": "'' + datum.value", "labelPadding": 8, "titlePadding": 8, "title": "Strain ( %)"}}
 },
 "layer": [
  {"data": {"name": "lines"}, "transform": [{"filter": "datum.p == 'b'"}], "mark": {"type": "line", "strokeWidth": 2, "clip": true}, "encoding": {"color": {"field": "k", "type": "nominal", "scale": {"domain": ["1","2","3","4","5"], "range": ["#2e6fc0","#c0302b","#8cbb3c","#7030a0","#f7923a"]}, "legend": null}, "order": {"value": null}}},
  {"data": {"name": "lead"}, "transform": [{"filter": "datum.p == 'b'"}], "mark": {"type": "rule", "strokeWidth": 1.5}, "encoding": {"x2": {"field": "t2"}, "y2": {"field": "s2"}, "color": {"field": "k", "type": "nominal", "legend": null}}},
  {"data": {"name": "num"}, "transform": [{"filter": "datum.p == 'b'"}], "mark": {"type": "text", "fontSize": 18}, "encoding": {"text": {"field": "k"}, "color": {"field": "k", "type": "nominal", "legend": null}}},
  {"data": {"name": "box"}, "transform": [{"filter": "datum.p == 'b'"}], "mark": {"type": "rect", "fill": "white", "stroke": "black", "strokeWidth": 1.5}, "encoding": {"x2": {"field": "t2"}, "y2": {"field": "s2"}}},
  {"data": {"name": "txt"}, "transform": [{"filter": "datum.p == 'b' && datum.r == 'box'"}], "mark": {"type": "text", "fontSize": 29, "color": "black"}, "encoding": {"text": {"field": "label"}}},
  {"data": {"name": "txt"}, "transform": [{"filter": "datum.p == 'b' && datum.r == 'pan'"}], "mark": {"type": "text", "fontSize": 26, "font": "Liberation Serif", "fontWeight": "bold", "color": "black"}, "encoding": {"text": {"field": "label"}}},
  {"data": {"name": "txt"}, "transform": [{"filter": "datum.p == 'b' && datum.r == 'M'"}], "mark": {"type": "text", "fontSize": 19, "color": "black"}, "encoding": {"text": {"field": "label"}}},
  {"data": {"name": "txt"}, "transform": [{"filter": "datum.p == 'b' && datum.r == 'f'"}], "mark": {"type": "text", "fontSize": 13, "color": "black"}, "encoding": {"text": {"field": "label"}}},
  {"data": {"name": "dash"}, "transform": [{"filter": "datum.p == 'b'"}], "mark": {"type": "rule", "strokeDash": [4,3], "strokeWidth": 1.5, "color": "black"}, "encoding": {"x2": {"field": "t2"}, "y2": {"field": "s2"}}}
 ]}
]},
{"spacing": 41, "hconcat": [
{"width": 338, "height": 320,
 "encoding": {
  "x": {"field": "t", "type": "quantitative", "scale": {"domain": [-15, 50], "nice": false, "zero": false}, "axis": {"values": [-15,-5,5,15,25,35,45], "labelExpr": "'' + datum.value", "labelFlush": false, "labelPadding": 8, "titlePadding": 10, "title": "Temperature (°C)"}},
  "y": {"field": "s", "type": "quantitative", "scale": {"domain": [0, 0.6], "nice": false, "zero": false}, "axis": {"values": [0,0.2,0.4,0.6], "labelExpr": "'' + datum.value", "labelPadding": 8, "titlePadding": 8, "title": "Strain ( %)"}}
 },
 "layer": [
  {"data": {"name": "lines"}, "transform": [{"filter": "datum.p == 'c'"}], "mark": {"type": "line", "strokeWidth": 2, "clip": true}, "encoding": {"color": {"field": "k", "type": "nominal", "scale": {"domain": ["1","2","3","4","5"], "range": ["#2e6fc0","#b8302e","#8cbb3c","#7030a0","#f7923a"]}, "legend": null}, "order": {"value": null}}},
  {"data": {"name": "lead"}, "transform": [{"filter": "datum.p == 'c'"}], "mark": {"type": "rule", "strokeWidth": 1.5}, "encoding": {"x2": {"field": "t2"}, "y2": {"field": "s2"}, "color": {"field": "k", "type": "nominal", "legend": null}}},
  {"data": {"name": "num"}, "transform": [{"filter": "datum.p == 'c'"}], "mark": {"type": "text", "fontSize": 18}, "encoding": {"text": {"field": "k"}, "color": {"field": "k", "type": "nominal", "legend": null}}},
  {"data": {"name": "box"}, "transform": [{"filter": "datum.p == 'c'"}], "mark": {"type": "rect", "fill": "white", "stroke": "black", "strokeWidth": 1.5}, "encoding": {"x2": {"field": "t2"}, "y2": {"field": "s2"}}},
  {"data": {"name": "txt"}, "transform": [{"filter": "datum.p == 'c' && datum.r == 'box'"}], "mark": {"type": "text", "fontSize": 29, "color": "black"}, "encoding": {"text": {"field": "label"}}},
  {"data": {"name": "txt"}, "transform": [{"filter": "datum.p == 'c' && datum.r == 'pan'"}], "mark": {"type": "text", "fontSize": 26, "font": "Liberation Serif", "fontWeight": "bold", "color": "black"}, "encoding": {"text": {"field": "label"}}},
  {"data": {"name": "txt"}, "transform": [{"filter": "datum.p == 'c' && datum.r == 'M'"}], "mark": {"type": "text", "fontSize": 19, "color": "black"}, "encoding": {"text": {"field": "label"}}},
  {"data": {"name": "txt"}, "transform": [{"filter": "datum.p == 'c' && datum.r == 'f'"}], "mark": {"type": "text", "fontSize": 13, "color": "black"}, "encoding": {"text": {"field": "label"}}},
  {"data": {"name": "dash"}, "transform": [{"filter": "datum.p == 'c'"}], "mark": {"type": "rule", "strokeDash": [4,3], "strokeWidth": 1.5, "color": "black"}, "encoding": {"x2": {"field": "t2"}, "y2": {"field": "s2"}}}
 ]},
{"width": 327, "height": 318,
 "encoding": {
  "x": {"field": "t", "type": "quantitative", "scale": {"domain": [-15, 47.7], "nice": false, "zero": false}, "axis": {"values": [-15,-5,5,15,25,35,45], "labelExpr": "'' + datum.value", "labelFlush": false, "labelPadding": 14, "titlePadding": 9, "title": "Temperature (°C)"}},
  "y": {"field": "s", "type": "quantitative", "scale": {"domain": [0, 0.6], "nice": false, "zero": false}, "axis": {"values": [0,0.2,0.4,0.6], "labelExpr": "'' + datum.value", "labelPadding": 8, "titlePadding": 8, "title": "Strain ( %)"}}
 },
 "layer": [
  {"data": {"name": "lines"}, "transform": [{"filter": "datum.p == 'd'"}], "mark": {"type": "line", "strokeWidth": 2, "clip": true}, "encoding": {"color": {"field": "k", "type": "nominal", "scale": {"domain": ["1","2","3","4","5"], "range": ["#2e6fc0","#b8302e","#8cbb3c","#7030a0","#f7923a"]}, "legend": null}, "order": {"value": null}}},
  {"data": {"name": "lead"}, "transform": [{"filter": "datum.p == 'd'"}], "mark": {"type": "rule", "strokeWidth": 1.5}, "encoding": {"x2": {"field": "t2"}, "y2": {"field": "s2"}, "color": {"field": "k", "type": "nominal", "legend": null}}},
  {"data": {"name": "num"}, "transform": [{"filter": "datum.p == 'd'"}], "mark": {"type": "text", "fontSize": 18}, "encoding": {"text": {"field": "k"}, "color": {"field": "k", "type": "nominal", "legend": null}}},
  {"data": {"name": "box"}, "transform": [{"filter": "datum.p == 'd'"}], "mark": {"type": "rect", "fill": "white", "stroke": "black", "strokeWidth": 1.5}, "encoding": {"x2": {"field": "t2"}, "y2": {"field": "s2"}}},
  {"data": {"name": "txt"}, "transform": [{"filter": "datum.p == 'd' && datum.r == 'box'"}], "mark": {"type": "text", "fontSize": 29, "color": "black"}, "encoding": {"text": {"field": "label"}}},
  {"data": {"name": "txt"}, "transform": [{"filter": "datum.p == 'd' && datum.r == 'pan'"}], "mark": {"type": "text", "fontSize": 26, "font": "Liberation Serif", "fontWeight": "bold", "color": "black"}, "encoding": {"text": {"field": "label"}}},
  {"data": {"name": "txt"}, "transform": [{"filter": "datum.p == 'd' && datum.r == 'M'"}], "mark": {"type": "text", "fontSize": 19, "color": "black"}, "encoding": {"text": {"field": "label"}}},
  {"data": {"name": "txt"}, "transform": [{"filter": "datum.p == 'd' && datum.r == 'f'"}], "mark": {"type": "text", "fontSize": 13, "color": "black"}, "encoding": {"text": {"field": "label"}}},
  {"data": {"name": "dash"}, "transform": [{"filter": "datum.p == 'd'"}], "mark": {"type": "rule", "strokeDash": [4,3], "strokeWidth": 1.5, "color": "black"}, "encoding": {"x2": {"field": "t2"}, "y2": {"field": "s2"}}}
 ]}
]}
]
}
